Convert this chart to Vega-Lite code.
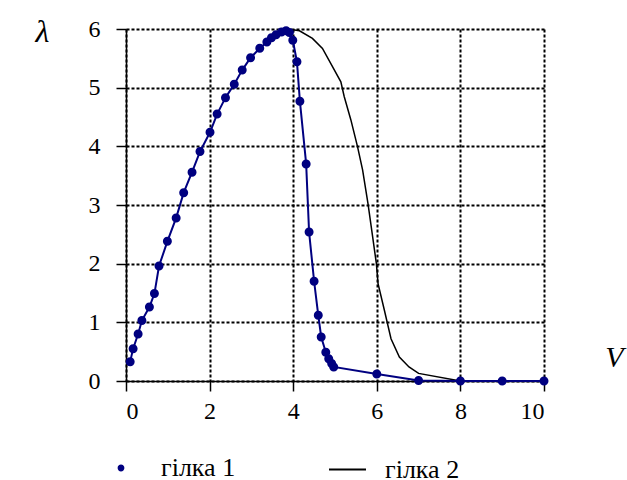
{
  "$schema": "https://vega.github.io/schema/vega-lite/v6.json",
  "width": 418,
  "height": 352,
  "autosize": "none",
  "padding": {"left": 126, "top": 29, "right": 83, "bottom": 99},
  "background": "white",
  "config": {
    "view": {"stroke": null},
    "axis": {
      "labelColor": "#000",
      "domainColor": "#000",
      "domainWidth": 1.5,
      "tickColor": "#000",
      "tickWidth": 1.5,
      "tickSize": 10,
      "gridColor": "#000",
      "gridWidth": 2,
      "gridDash": [3, 2],
      "gridOpacity": 1
    }
  },
  "data": {
    "values": [
      {"series": "гілка 1", "V": 0.10, "lambda": 0.33},
      {"series": "гілка 1", "V": 0.17, "lambda": 0.55},
      {"series": "гілка 1", "V": 0.29, "lambda": 0.80},
      {"series": "гілка 1", "V": 0.38, "lambda": 1.03},
      {"series": "гілка 1", "V": 0.56, "lambda": 1.26},
      {"series": "гілка 1", "V": 0.68, "lambda": 1.49},
      {"series": "гілка 1", "V": 0.79, "lambda": 1.96},
      {"series": "гілка 1", "V": 0.99, "lambda": 2.38},
      {"series": "гілка 1", "V": 1.20, "lambda": 2.78},
      {"series": "гілка 1", "V": 1.38, "lambda": 3.21},
      {"series": "гілка 1", "V": 1.58, "lambda": 3.56},
      {"series": "гілка 1", "V": 1.77, "lambda": 3.91},
      {"series": "гілка 1", "V": 2.01, "lambda": 4.24},
      {"series": "гілка 1", "V": 2.18, "lambda": 4.55},
      {"series": "гілка 1", "V": 2.38, "lambda": 4.83},
      {"series": "гілка 1", "V": 2.59, "lambda": 5.06},
      {"series": "гілка 1", "V": 2.78, "lambda": 5.30},
      {"series": "гілка 1", "V": 2.98, "lambda": 5.51},
      {"series": "гілка 1", "V": 3.20, "lambda": 5.67},
      {"series": "гілка 1", "V": 3.37, "lambda": 5.78},
      {"series": "гілка 1", "V": 3.48, "lambda": 5.85},
      {"series": "гілка 1", "V": 3.59, "lambda": 5.90},
      {"series": "гілка 1", "V": 3.72, "lambda": 5.95},
      {"series": "гілка 1", "V": 3.83, "lambda": 5.97},
      {"series": "гілка 1", "V": 3.91, "lambda": 5.94},
      {"series": "гілка 1", "V": 3.99, "lambda": 5.81},
      {"series": "гілка 1", "V": 4.09, "lambda": 5.44},
      {"series": "гілка 1", "V": 4.16, "lambda": 4.77},
      {"series": "гілка 1", "V": 4.31, "lambda": 3.70},
      {"series": "гілка 1", "V": 4.38, "lambda": 2.54},
      {"series": "гілка 1", "V": 4.50, "lambda": 1.70},
      {"series": "гілка 1", "V": 4.60, "lambda": 1.12},
      {"series": "гілка 1", "V": 4.67, "lambda": 0.75},
      {"series": "гілка 1", "V": 4.78, "lambda": 0.49},
      {"series": "гілка 1", "V": 4.85, "lambda": 0.38},
      {"series": "гілка 1", "V": 4.92, "lambda": 0.30},
      {"series": "гілка 1", "V": 4.97, "lambda": 0.24},
      {"series": "гілка 1", "V": 6.00, "lambda": 0.12},
      {"series": "гілка 1", "V": 7.00, "lambda": 0.01},
      {"series": "гілка 1", "V": 8.00, "lambda": 0.0},
      {"series": "гілка 1", "V": 9.00, "lambda": 0.0},
      {"series": "гілка 1", "V": 10.00, "lambda": 0.0},
      {"series": "гілка 2", "V": 3.83, "lambda": 5.97},
      {"series": "гілка 2", "V": 3.95, "lambda": 5.99},
      {"series": "гілка 2", "V": 4.15, "lambda": 5.97},
      {"series": "гілка 2", "V": 4.46, "lambda": 5.84},
      {"series": "гілка 2", "V": 4.70, "lambda": 5.67},
      {"series": "гілка 2", "V": 4.94, "lambda": 5.36},
      {"series": "гілка 2", "V": 5.14, "lambda": 5.10},
      {"series": "гілка 2", "V": 5.22, "lambda": 4.85},
      {"series": "гілка 2", "V": 5.38, "lambda": 4.45},
      {"series": "гілка 2", "V": 5.54, "lambda": 3.99},
      {"series": "гілка 2", "V": 5.66, "lambda": 3.60},
      {"series": "гілка 2", "V": 5.79, "lambda": 3.02},
      {"series": "гілка 2", "V": 5.90, "lambda": 2.46},
      {"series": "гілка 2", "V": 5.99, "lambda": 2.00},
      {"series": "гілка 2", "V": 6.03, "lambda": 1.66},
      {"series": "гілка 2", "V": 6.18, "lambda": 1.21},
      {"series": "гілка 2", "V": 6.34, "lambda": 0.72},
      {"series": "гілка 2", "V": 6.54, "lambda": 0.41},
      {"series": "гілка 2", "V": 6.77, "lambda": 0.24},
      {"series": "гілка 2", "V": 7.00, "lambda": 0.13},
      {"series": "гілка 2", "V": 8.00, "lambda": 0.0},
      {"series": "гілка 2", "V": 9.00, "lambda": 0.0},
      {"series": "гілка 2", "V": 10.00, "lambda": 0.0}
    ]
  },
  "encoding": {
    "x": {
      "field": "V",
      "type": "quantitative",
      "scale": {"domain": [0, 10], "nice": false, "zero": false},
      "axis": {
        "values": [0, 2, 4, 6, 8, 10],
        "labelFont": "Liberation Serif",
        "labelFontSize": 24,
        "labelPadding": 8,
        "title": "V",
        "titleFont": "Liberation Serif",
        "titleFontStyle": "italic",
        "titleFontWeight": "normal",
        "titleFontSize": 30,
        "titleColor": "#000",
        "titleX": 488,
        "titleY": -24,
        "titleAlign": "center",
        "titleBaseline": "middle"
      }
    },
    "y": {
      "field": "lambda",
      "type": "quantitative",
      "scale": {"domain": [0, 6], "nice": false},
      "axis": {
        "values": [0, 1, 2, 3, 4, 5, 6],
        "labelFont": "Liberation Serif",
        "labelFontSize": 24,
        "labelPadding": 16,
        "title": "λ",
        "titleFont": "Liberation Serif",
        "titleFontStyle": "italic",
        "titleFontWeight": "normal",
        "titleFontSize": 32,
        "titleColor": "#000",
        "titleAngle": 0,
        "titleX": -84,
        "titleY": 2,
        "titleAlign": "center",
        "titleBaseline": "middle"
      }
    }
  },
  "layer": [
    {
      "transform": [{"filter": "datum.series === 'гілка 2'"}],
      "mark": {"type": "line", "strokeWidth": 1.5},
      "encoding": {
        "color": {
          "field": "series",
          "type": "nominal",
          "scale": {"domain": ["гілка 1", "гілка 2"], "range": ["#000080", "#000000"]},
          "legend": {
            "title": null,
            "values": ["гілка 2"],
            "orient": "none",
            "direction": "horizontal",
            "legendX": 202,
            "legendY": 421,
            "symbolType": "stroke",
            "symbolSize": 1369,
            "symbolStrokeWidth": 2,
            "labelFont": "Liberation Serif",
            "labelFontSize": 26,
            "labelLimit": 300,
            "labelColor": "#000",
            "labelOffset": 18
          }
        }
      }
    },
    {
      "transform": [{"filter": "datum.series === 'гілка 1'"}],
      "mark": {"type": "line", "strokeWidth": 2},
      "encoding": {
        "color": {"field": "series", "type": "nominal"}
      }
    },
    {
      "transform": [{"filter": "datum.series === 'гілка 1'"}],
      "mark": {"type": "point", "filled": true, "size": 2025, "opacity": 1, "color": "#000080"},
      "encoding": {
        "shape": {
          "field": "series",
          "type": "nominal",
          "scale": {
            "domain": ["гілка 1"],
            "range": ["M-1,0L1,0M-0.2,0A0.2,0.2,0,1,0,0.2,0A0.2,0.2,0,1,0,-0.2,0Z"]
          },
          "legend": {
            "title": null,
            "orient": "none",
            "direction": "horizontal",
            "legendX": -23,
            "legendY": 421,
            "symbolSize": 1156,
            "symbolStrokeColor": "#000080",
            "symbolFillColor": "#000080",
            "symbolStrokeWidth": 2,
            "labelFont": "Liberation Serif",
            "labelFontSize": 26,
            "labelLimit": 300,
            "labelColor": "#000",
            "labelOffset": 22
          }
        }
      }
    }
  ]
}
